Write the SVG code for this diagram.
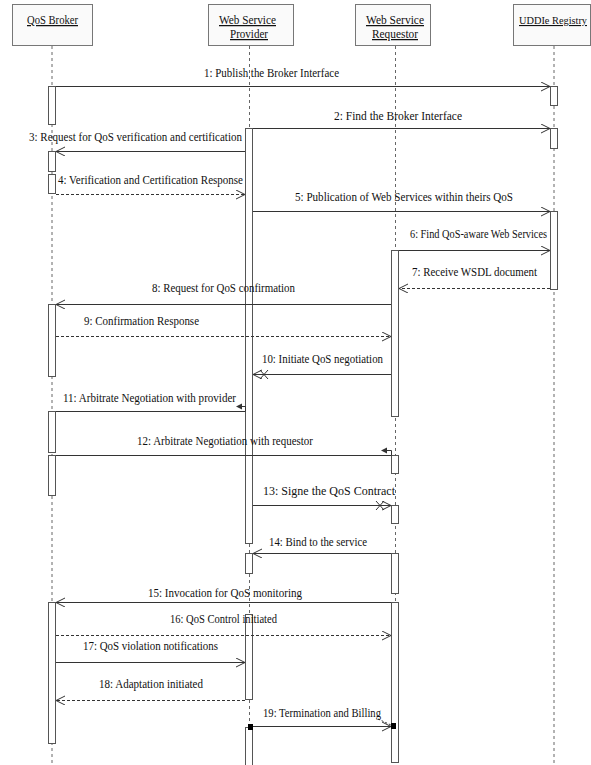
<svg xmlns="http://www.w3.org/2000/svg" width="591" height="765" viewBox="0 0 591 765">
<style>
text{font-family:"Liberation Serif","Times New Roman",serif;font-size:12.5px;fill:#111}
.hdr{fill:#fafafa;stroke:#777;stroke-width:1}
.hl{text-decoration:underline}
.life{stroke:#666;stroke-width:1;stroke-dasharray:3,3;fill:none}
.act{fill:#fff;stroke:#555;stroke-width:1}
.msg{stroke:#333;stroke-width:1;fill:none}
.ret{stroke:#333;stroke-width:1;fill:none;stroke-dasharray:3,2}
</style>
<defs>
<marker id="open" markerWidth="10" markerHeight="10" refX="9" refY="4.5" orient="auto" markerUnits="userSpaceOnUse"><path d="M0,0 L9,4.5 L0,9" fill="none" stroke="#333" stroke-width="1"/></marker>
<marker id="openx" markerWidth="20" markerHeight="10" refX="18" refY="4.5" orient="auto" markerUnits="userSpaceOnUse"><path d="M9,0 L18,4.5 L9,9 M3,0 L11,9 M3,9 L11,0" fill="none" stroke="#333" stroke-width="1"/></marker>
</defs>

<g id="broker">
<rect class="hdr" x="12.5" y="4.5" width="80" height="41"/>
<text class="hl" x="27" y="24" textLength="51" lengthAdjust="spacingAndGlyphs">QoS Broker</text>
<line class="life" x1="52" y1="46" x2="52" y2="765"/>
<rect class="act" x="48.5" y="86.5" width="7" height="38"/>
<rect class="act" x="48.5" y="151.5" width="7" height="20"/>
<rect class="act" x="48.5" y="174.5" width="7" height="19"/>
<rect class="act" x="48.5" y="304.5" width="7" height="72"/>
<rect class="act" x="48.5" y="411.5" width="7" height="41"/>
<rect class="act" x="48.5" y="455.5" width="7" height="40"/>
<rect class="act" x="48.5" y="602.5" width="7" height="141"/>
</g>

<g id="provider">
<rect class="hdr" x="208.5" y="4.5" width="85" height="41"/>
<text class="hl" x="219" y="24" textLength="57" lengthAdjust="spacingAndGlyphs">Web Service</text>
<text class="hl" x="230" y="38" textLength="38" lengthAdjust="spacingAndGlyphs">Provider</text>
<line class="life" x1="249.5" y1="46" x2="249.5" y2="765"/>
<rect class="act" x="245.5" y="128.5" width="7" height="415"/>
<rect class="act" x="245.5" y="553.5" width="7" height="20"/>
<rect class="act" x="245.5" y="614.5" width="7" height="85"/>
<rect class="act" x="245.5" y="727.5" width="7" height="40"/>
</g>

<g id="requestor">
<rect class="hdr" x="355.5" y="4.5" width="75" height="41"/>
<text class="hl" x="366" y="24" textLength="58" lengthAdjust="spacingAndGlyphs">Web Service</text>
<text class="hl" x="372" y="38" textLength="46" lengthAdjust="spacingAndGlyphs">Requestor</text>
<line class="life" x1="395.5" y1="46" x2="395.5" y2="765"/>
<rect class="act" x="391.5" y="250.5" width="7" height="166"/>
<rect class="act" x="391.5" y="455.5" width="7" height="18"/>
<rect class="act" x="391.5" y="505.5" width="7" height="18"/>
<rect class="act" x="391.5" y="553.5" width="7" height="40"/>
<rect class="act" x="391.5" y="602.5" width="7" height="160"/>
</g>

<g id="uddi">
<rect class="hdr" x="513.5" y="4.5" width="77" height="41"/>
<text class="hl" x="519" y="24" style="font-size:11px" textLength="68" lengthAdjust="spacingAndGlyphs">UDDIe Registry</text>
<line class="life" x1="554" y1="46" x2="554" y2="765"/>
<rect class="act" x="550.5" y="86.5" width="7" height="19"/>
<rect class="act" x="550.5" y="128.5" width="7" height="20"/>
<rect class="act" x="550.5" y="211.5" width="7" height="78"/>
</g>

<g id="connectors">
<line class="msg" x1="56" y1="86.5" x2="550" y2="86.5" marker-end="url(#open)"/>
<text x="204" y="77" textLength="135" lengthAdjust="spacingAndGlyphs">1: Publish the Broker Interface</text>

<line class="msg" x1="253" y1="128.5" x2="550" y2="128.5" marker-end="url(#open)"/>
<text x="334" y="120" textLength="128" lengthAdjust="spacingAndGlyphs">2: Find the Broker Interface</text>

<line class="msg" x1="245" y1="151.5" x2="56" y2="151.5" marker-end="url(#open)"/>
<text x="29" y="141" textLength="213" lengthAdjust="spacingAndGlyphs">3: Request for QoS verification and certification</text>

<line class="ret" x1="56" y1="194.5" x2="245" y2="194.5" marker-end="url(#open)"/>
<text x="58" y="184" textLength="185" lengthAdjust="spacingAndGlyphs">4: Verification and Certification Response</text>

<line class="msg" x1="253" y1="211.5" x2="550" y2="211.5" marker-end="url(#open)"/>
<text x="295" y="201" textLength="218" lengthAdjust="spacingAndGlyphs">5: Publication of Web Services within theirs QoS</text>

<line class="msg" x1="399" y1="250.5" x2="550" y2="250.5" marker-end="url(#open)"/>
<text x="410" y="238" textLength="137" lengthAdjust="spacingAndGlyphs">6: Find QoS-aware Web Services</text>

<line class="ret" x1="550" y1="288.5" x2="399" y2="288.5" marker-end="url(#open)"/>
<text x="412" y="276" textLength="125" lengthAdjust="spacingAndGlyphs">7: Receive WSDL document</text>

<line class="msg" x1="391" y1="304.5" x2="56" y2="304.5" marker-end="url(#open)"/>
<text x="152" y="292" textLength="143" lengthAdjust="spacingAndGlyphs">8: Request for QoS confirmation</text>

<line class="ret" x1="56" y1="336.5" x2="391" y2="336.5" marker-end="url(#open)"/>
<text x="84" y="325" textLength="115" lengthAdjust="spacingAndGlyphs">9: Confirmation Response</text>

<line class="msg" x1="391" y1="374.5" x2="253" y2="374.5" marker-end="url(#openx)"/>
<text x="262" y="363" textLength="121" lengthAdjust="spacingAndGlyphs">10: Initiate QoS negotiation</text>

<line class="msg" x1="56" y1="411.5" x2="245" y2="411.5"/>
<path class="msg" d="M245.5,411.5 V406.5 H238"/>
<path d="M236,406.5 L242,403.5 L242,409.5 Z" fill="#333"/>
<text x="63" y="402" textLength="173" lengthAdjust="spacingAndGlyphs">11: Arbitrate Negotiation with provider</text>

<line class="msg" x1="56" y1="455.5" x2="391" y2="455.5"/>
<path class="msg" d="M391.5,455.5 V450.5 H384"/>
<path d="M381,450.5 L387,447.5 L387,453.5 Z" fill="#333"/>
<text x="137" y="445" textLength="176" lengthAdjust="spacingAndGlyphs">12: Arbitrate Negotiation with requestor</text>

<line class="msg" x1="253" y1="505.5" x2="391" y2="505.5" marker-end="url(#openx)"/>
<text x="263" y="495" textLength="132" lengthAdjust="spacingAndGlyphs">13: Signe the QoS Contract</text>

<line class="msg" x1="391" y1="553.5" x2="253" y2="553.5" marker-end="url(#open)"/>
<text x="269" y="546" textLength="98" lengthAdjust="spacingAndGlyphs">14: Bind to the service</text>

<line class="msg" x1="391" y1="602.5" x2="56" y2="602.5" marker-end="url(#open)"/>
<text x="148" y="597" textLength="154" lengthAdjust="spacingAndGlyphs">15: Invocation for QoS monitoring</text>

<line class="ret" x1="56" y1="635.5" x2="391" y2="635.5" marker-end="url(#open)"/>
<text x="170" y="623" textLength="107" lengthAdjust="spacingAndGlyphs">16: QoS Control initiated</text>

<line class="msg" x1="56" y1="662.5" x2="245" y2="662.5" marker-end="url(#open)"/>
<text x="83" y="650" textLength="135" lengthAdjust="spacingAndGlyphs">17: QoS violation notifications</text>

<line class="ret" x1="245" y1="700.5" x2="56" y2="700.5" marker-end="url(#open)"/>
<text x="99" y="688" textLength="104" lengthAdjust="spacingAndGlyphs">18: Adaptation initiated</text>

<line class="msg" x1="250.5" y1="726.5" x2="391" y2="726.5" marker-end="url(#open)"/>
<rect x="248" y="724" width="5" height="6" fill="#000"/>
<rect x="391" y="723" width="5" height="6" fill="#000"/>
<line x1="378" y1="719" x2="391" y2="725" stroke="#333" stroke-width="1" stroke-dasharray="2,2"/>
<text x="263" y="717" textLength="118" lengthAdjust="spacingAndGlyphs">19: Termination and Billing</text>
</g>
</svg>
